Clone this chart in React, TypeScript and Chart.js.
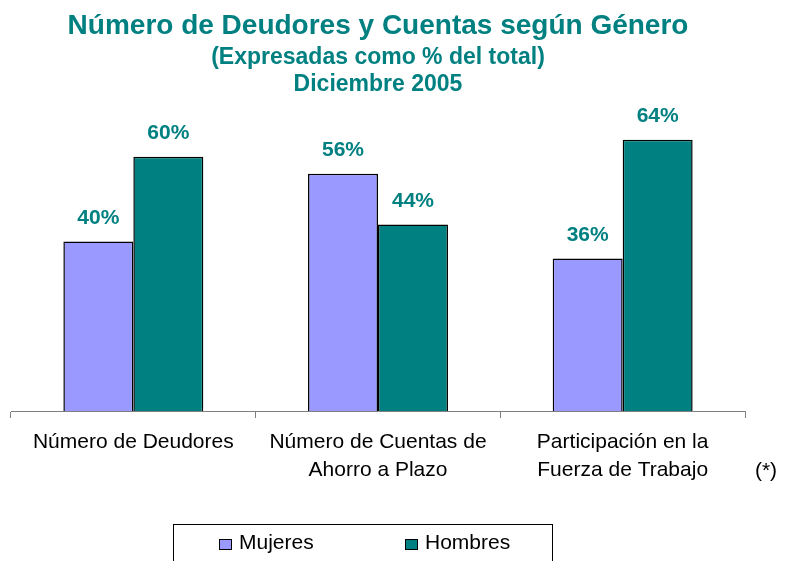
import React, { useEffect, useRef } from 'react';
import { Chart, registerables } from 'chart.js';

Chart.register(...registerables);

// ---- Data ----
const categories: (string | string[])[] = [
  'Número de Deudores',
  ['Número de Cuentas de', 'Ahorro a Plazo'],
  ['Participación en la', 'Fuerza de Trabajo'],
];
const mujeres = [40, 56, 36];
const hombres = [60, 44, 64];
const seriesNames = ['Mujeres', 'Hombres'];
const seriesColors = ['#9999FF', '#008080'];
const titleText = 'Número de Deudores y Cuentas según Género';
const subtitleLines = ['(Expresadas como % del total)', 'Diciembre 2005'];
const footnote = '(*)';
const yMax = 69.7;

const FONT = "'Liberation Sans', Arial, Helvetica, sans-serif";
const TEAL = '#008080';

const valueLabels = {
  id: 'valueLabels',
  afterDatasetsDraw(chart: any) {
    const ctx = chart.ctx;
    ctx.save();
    ctx.font = `bold 21px ${FONT}`;
    ctx.fillStyle = TEAL;
    ctx.textAlign = 'center';
    ctx.textBaseline = 'middle';
    chart.data.datasets.forEach((ds: any, di: number) => {
      const meta = chart.getDatasetMeta(di);
      meta.data.forEach((bar: any, i: number) => {
        ctx.fillText(`${ds.data[i]}%`, bar.x, bar.y - 23.5);
      });
    });
    ctx.restore();
  },
};

const boxLegend = {
  id: 'boxLegend',
  afterDraw(chart: any) {
    const ctx = chart.ctx;
    const area = chart.chartArea;
    const boxLeft = area.left + 162;
    const boxRight = area.left + 541;
    const boxTop = area.bottom + 113;
    ctx.save();
    ctx.strokeStyle = '#000';
    ctx.lineWidth = 1;
    ctx.strokeRect(Math.round(boxLeft) + 0.5, Math.round(boxTop) + 0.5, boxRight - boxLeft, 60);
    const itemX = [area.left + 208, area.left + 394];
    const cy = boxTop + 19;
    ctx.font = `21px ${FONT}`;
    ctx.textBaseline = 'middle';
    ctx.textAlign = 'left';
    chart.data.datasets.forEach((ds: any, i: number) => {
      const x = itemX[i];
      ctx.fillStyle = ds.backgroundColor;
      ctx.fillRect(x, cy - 4, 12, 10);
      ctx.strokeStyle = '#000';
      ctx.strokeRect(x + 0.5, cy - 4 + 0.5, 12, 10);
      ctx.fillStyle = '#000';
      ctx.fillText(ds.label, x + 20, cy);
    });
    // footnote
    ctx.font = `21px ${FONT}`;
    ctx.textAlign = 'center';
    ctx.fillText(footnote, area.right + 21, area.bottom + 60);
    ctx.restore();
  },
};

export default function App() {
  const ref = useRef<HTMLCanvasElement>(null);
  useEffect(() => {
    if (!ref.current) return;
    const chart = new Chart(ref.current, {
      type: 'bar',
      data: {
        labels: categories as any,
        datasets: [
          {
            label: seriesNames[0],
            data: mujeres,
            backgroundColor: seriesColors[0],
            borderColor: '#000',
            borderWidth: 1.5,
            categoryPercentage: 0.572,
            barPercentage: 1,
          },
          {
            label: seriesNames[1],
            data: hombres,
            backgroundColor: seriesColors[1],
            borderColor: '#000',
            borderWidth: 1.5,
            categoryPercentage: 0.572,
            barPercentage: 1,
          },
        ],
      },
      options: {
        responsive: false,
        animation: false,
        devicePixelRatio: 1,
        layout: { padding: { left: 11, right: 43, top: 0, bottom: 80 } },
        plugins: {
          legend: { display: false },
          tooltip: { enabled: false },
          title: {
            display: true,
            text: titleText,
            color: TEAL,
            font: { family: FONT, size: 28, weight: 'bold', lineHeight: 1.2 },
            padding: { top: 9, bottom: 0 },
          },
          subtitle: {
            display: true,
            text: subtitleLines,
            color: TEAL,
            font: { family: FONT, size: 23, weight: 'bold', lineHeight: '27.5px' as any },
            padding: { top: 1, bottom: 17 },
          },
        },
        scales: {
          x: {
            grid: {
              display: true,
              drawOnChartArea: false,
              drawTicks: true,
              tickLength: 7,
              color: '#808080',
              offset: true,
            },
            border: { display: true, color: '#808080', width: 1 },
            ticks: {
              color: '#000',
              padding: 10,
              maxRotation: 0,
              autoSkip: false,
              font: { family: FONT, size: 21, lineHeight: '28px' as any },
            },
            afterFit(scale: any) {
              scale.height = 70;
            },
          },
          y: {
            display: false,
            min: 0,
            max: yMax,
          },
        },
      },
      plugins: [valueLabels, boxLegend],
    });
    return () => chart.destroy();
  }, []);
  return (
    <div style={{ position: 'absolute', left: 0, top: 0, width: 788, height: 561, background: '#fff' }}>
      <canvas ref={ref} width={788} height={561} style={{ display: 'block' }} />
    </div>
  );
}
